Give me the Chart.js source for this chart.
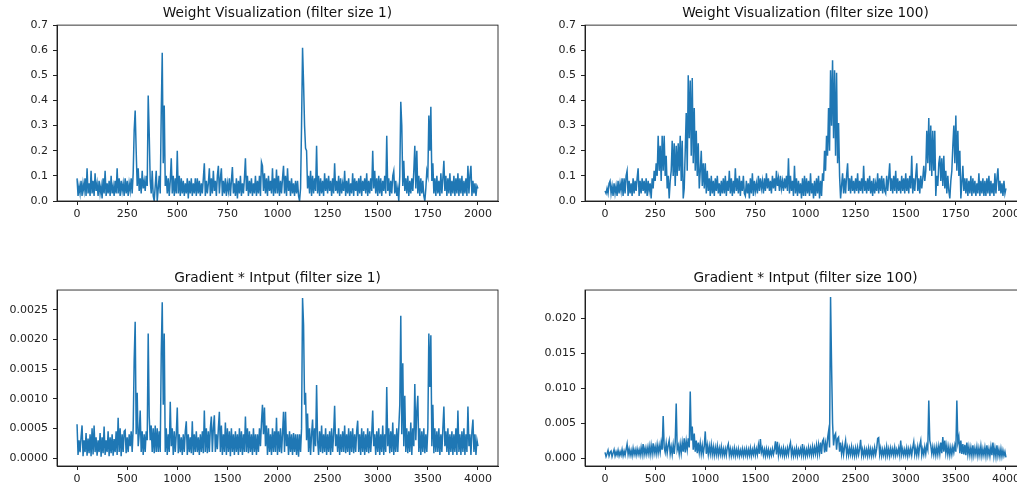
<!DOCTYPE html>
<html>
<head>
<meta charset="utf-8">
<script src="https://cdn.jsdelivr.net/npm/chart.js@4.4.1/dist/chart.umd.min.js"></script>
<style>
    html, body { margin: 0; padding: 0; overflow: hidden; background: #fff; width: 1017px; height: 485px; }
    canvas { position: absolute; }
</style>
</head>
<body>
<canvas id="w1" width="510" height="240" style="left:0;top:0"></canvas>
<canvas id="w100" width="530" height="240" style="left:510px;top:0"></canvas>
<canvas id="g1" width="510" height="225" style="left:0;top:260px"></canvas>
<canvas id="g100" width="530" height="225" style="left:510px;top:260px"></canvas>
<script>
// pas d'echantillonnage (une valeur lue tous les 5 / 10 indices)
const weightStep = 5;
const gradStep = 10;

// Weight Visualization (filter size 1) - une ligne = 100 indices
const weightF1 = [
    0.09, 0.02, 0.06, 0.03, 0.08, 0.02, 0.07, 0.04, 0.09, 0.02, 0.13, 0.03, 0.07, 0.02, 0.12, 0.03, 0.08, 0.02, 0.11, 0.04,
    0.07, 0.02, 0.08, 0.03, 0.06, 0.01, 0.09, 0.03, 0.12, 0.02, 0.07, 0.03, 0.08, 0.02, 0.10, 0.03, 0.06, 0.02, 0.08, 0.03,
    0.13, 0.03, 0.09, 0.02, 0.08, 0.04, 0.07, 0.02, 0.09, 0.03, 0.08, 0.02, 0.07, 0.04, 0.09, 0.03, 0.11, 0.28, 0.36, 0.20,
    0.06, 0.13, 0.04, 0.09, 0.03, 0.12, 0.05, 0.08, 0.04, 0.10, 0.06, 0.42, 0.27, 0.08, 0.03, 0.12, 0.02, 0.00, 0.06, 0.12,
    0.00, 0.05, 0.10, 0.03, 0.35, 0.59, 0.15, 0.38, 0.06, 0.10, 0.03, 0.09, 0.02, 0.08, 0.17, 0.03, 0.10, 0.02, 0.09, 0.03,
    0.20, 0.03, 0.10, 0.02, 0.09, 0.03, 0.08, 0.02, 0.07, 0.03, 0.09, 0.01, 0.08, 0.03, 0.09, 0.02, 0.07, 0.03, 0.09, 0.02,
    0.09, 0.03, 0.08, 0.02, 0.07, 0.03, 0.09, 0.15, 0.02, 0.08, 0.03, 0.07, 0.13, 0.02, 0.09, 0.03, 0.12, 0.04, 0.08, 0.02,
    0.10, 0.14, 0.03, 0.09, 0.13, 0.02, 0.08, 0.03, 0.09, 0.02, 0.07, 0.04, 0.09, 0.02, 0.08, 0.135, 0.03, 0.07, 0.02, 0.09,
    0.01, 0.08, 0.03, 0.10, 0.02, 0.07, 0.03, 0.09, 0.17, 0.04, 0.10, 0.02, 0.08, 0.03, 0.09, 0.02, 0.07, 0.03, 0.10, 0.02,
    0.08, 0.03, 0.10, 0.02, 0.155, 0.14, 0.04, 0.11, 0.03, 0.09, 0.02, 0.10, 0.04, 0.08, 0.03, 0.13, 0.02, 0.09, 0.03, 0.125,
    0.03, 0.10, 0.02, 0.08, 0.03, 0.09, 0.14, 0.03, 0.10, 0.02, 0.13, 0.04, 0.08, 0.02, 0.09, 0.03, 0.07, 0.02, 0.08, 0.03,
    0.08, 0.02, 0.00, 0.05, 0.30, 0.61, 0.47, 0.30, 0.21, 0.20, 0.05, 0.10, 0.03, 0.12, 0.02, 0.10, 0.03, 0.09, 0.04, 0.22,
    0.03, 0.10, 0.02, 0.09, 0.03, 0.08, 0.02, 0.11, 0.04, 0.09, 0.03, 0.10, 0.04, 0.08, 0.02, 0.09, 0.03, 0.15, 0.04, 0.08,
    0.03, 0.10, 0.02, 0.09, 0.03, 0.07, 0.04, 0.12, 0.02, 0.08, 0.03, 0.09, 0.02, 0.07, 0.03, 0.11, 0.02, 0.09, 0.04, 0.08,
    0.02, 0.09, 0.03, 0.10, 0.02, 0.08, 0.04, 0.09, 0.03, 0.11, 0.02, 0.08, 0.03, 0.09, 0.04, 0.20, 0.05, 0.12, 0.03, 0.09,
    0.02, 0.10, 0.03, 0.09, 0.02, 0.08, 0.04, 0.10, 0.03, 0.26, 0.04, 0.09, 0.02, 0.08, 0.03, 0.10, 0.12, 0.03, 0.08, 0.02,
    0.05, 0.00, 0.10, 0.395, 0.30, 0.06, 0.16, 0.04, 0.09, 0.03, 0.10, 0.02, 0.08, 0.03, 0.09, 0.04, 0.12, 0.22, 0.05, 0.20,
    0.03, 0.10, 0.02, 0.09, 0.03, 0.08, 0.02, 0.00, 0.05, 0.12, 0.10, 0.34, 0.20, 0.375, 0.08, 0.15, 0.03, 0.09, 0.02, 0.10,
    0.03, 0.08, 0.02, 0.11, 0.03, 0.09, 0.16, 0.04, 0.10, 0.02, 0.09, 0.03, 0.11, 0.02, 0.08, 0.03, 0.10, 0.02, 0.09, 0.03,
    0.11, 0.02, 0.09, 0.03, 0.10, 0.02, 0.08, 0.03, 0.09, 0.02, 0.14, 0.03, 0.10, 0.14, 0.02, 0.08, 0.03, 0.07, 0.02, 0.06,
    0.05
];

// Weight Visualization (filter size 100)
const weightF100 = [
    0.04, 0.03, 0.05, 0.03, 0.07, 0.08, 0.03, 0.06, 0.02, 0.07, 0.03, 0.06, 0.02, 0.08, 0.03, 0.07, 0.04, 0.09, 0.02, 0.09,
    0.03, 0.10, 0.12, 0.02, 0.08, 0.03, 0.07, 0.02, 0.09, 0.03, 0.08, 0.04, 0.09, 0.13, 0.02, 0.08, 0.03, 0.09, 0.04, 0.08,
    0.03, 0.09, 0.02, 0.08, 0.04, 0.07, 0.01, 0.09, 0.05, 0.12, 0.08, 0.15, 0.10, 0.26, 0.12, 0.22, 0.08, 0.26, 0.12, 0.26,
    0.10, 0.18, 0.05, 0.10, 0.01, 0.08, 0.12, 0.24, 0.10, 0.23, 0.06, 0.22, 0.10, 0.23, 0.12, 0.26, 0.08, 0.24, 0.01, 0.05,
    0.20, 0.35, 0.12, 0.50, 0.25, 0.48, 0.18, 0.49, 0.15, 0.37, 0.12, 0.28, 0.10, 0.23, 0.05, 0.12, 0.20, 0.06, 0.15, 0.05,
    0.15, 0.03, 0.12, 0.04, 0.09, 0.02, 0.10, 0.03, 0.08, 0.02, 0.09, 0.04, 0.10, 0.03, 0.07, 0.02, 0.08, 0.03, 0.09, 0.03,
    0.10, 0.02, 0.08, 0.04, 0.12, 0.03, 0.09, 0.02, 0.08, 0.03, 0.13, 0.04, 0.09, 0.03, 0.10, 0.02, 0.08, 0.04, 0.10, 0.03,
    0.02, 0.08, 0.03, 0.07, 0.01, 0.09, 0.03, 0.11, 0.02, 0.08, 0.04, 0.07, 0.03, 0.10, 0.04, 0.09, 0.05, 0.08, 0.03, 0.09,
    0.04, 0.11, 0.05, 0.09, 0.04, 0.08, 0.03, 0.10, 0.05, 0.09, 0.04, 0.12, 0.06, 0.09, 0.04, 0.10, 0.05, 0.08, 0.04, 0.09,
    0.05, 0.10, 0.04, 0.17, 0.03, 0.10, 0.04, 0.08, 0.02, 0.14, 0.03, 0.09, 0.02, 0.08, 0.03, 0.07, 0.01, 0.09, 0.02, 0.10,
    0.02, 0.09, 0.03, 0.08, 0.02, 0.11, 0.03, 0.07, 0.01, 0.08, 0.02, 0.09, 0.03, 0.10, 0.01, 0.08, 0.02, 0.11, 0.08, 0.20,
    0.12, 0.26, 0.18, 0.37, 0.20, 0.52, 0.30, 0.56, 0.25, 0.52, 0.18, 0.51, 0.15, 0.31, 0.10, 0.01, 0.06, 0.11, 0.03, 0.09,
    0.03, 0.10, 0.15, 0.04, 0.09, 0.03, 0.10, 0.04, 0.08, 0.03, 0.09, 0.04, 0.11, 0.03, 0.08, 0.04, 0.09, 0.03, 0.14, 0.04,
    0.08, 0.03, 0.09, 0.04, 0.10, 0.03, 0.08, 0.02, 0.09, 0.03, 0.07, 0.04, 0.11, 0.03, 0.09, 0.04, 0.10, 0.03, 0.09, 0.04,
    0.03, 0.10, 0.04, 0.09, 0.15, 0.04, 0.09, 0.03, 0.10, 0.04, 0.12, 0.03, 0.09, 0.04, 0.08, 0.03, 0.10, 0.04, 0.09, 0.03,
    0.11, 0.04, 0.09, 0.03, 0.10, 0.05, 0.18, 0.03, 0.09, 0.04, 0.10, 0.15, 0.04, 0.09, 0.03, 0.10, 0.05, 0.09, 0.14, 0.08,
    0.12, 0.28, 0.15, 0.33, 0.12, 0.30, 0.10, 0.28, 0.12, 0.28, 0.02, 0.10, 0.06, 0.15, 0.18, 0.08, 0.17, 0.06, 0.18, 0.05,
    0.12, 0.03, 0.10, 0.04, 0.01, 0.08, 0.12, 0.22, 0.30, 0.15, 0.34, 0.12, 0.28, 0.10, 0.20, 0.01, 0.07, 0.14, 0.04, 0.09,
    0.03, 0.09, 0.02, 0.08, 0.03, 0.10, 0.02, 0.09, 0.03, 0.08, 0.02, 0.07, 0.03, 0.11, 0.02, 0.08, 0.03, 0.09, 0.02, 0.08,
    0.02, 0.09, 0.03, 0.10, 0.02, 0.08, 0.03, 0.07, 0.02, 0.11, 0.03, 0.09, 0.13, 0.04, 0.08, 0.03, 0.07, 0.02, 0.08, 0.03,
    0.05
];

// Gradient * Intput (filter size 1) - une ligne = 200 indices
const gradF1 = [
    0.00057, 0.00005, 0.0003, 0.0001, 0.00035, 0.00055, 0.00003, 0.0003, 0.0001, 0.00042, 0.00004, 0.00033, 0.00008, 0.0004, 0.00003, 0.0005, 0.00006, 0.00055, 0.0001, 0.00035,
    0.00004, 0.0003, 0.0001, 0.00042, 0.00002, 0.00035, 0.00008, 0.00053, 0.00005, 0.0003, 0.0001, 0.00045, 0.00003, 0.00035, 0.00008, 0.0004, 0.00004, 0.00032, 0.0001, 0.00045,
    0.00005, 0.00068, 0.0001, 0.0005, 0.00003, 0.0004, 0.0001, 0.00045, 0.00047, 0.00008, 0.00035, 0.0001, 0.0004, 0.0002, 0.00045, 0.0001, 0.0005, 0.00165, 0.0023, 0.0004,
    0.0011, 0.0002, 0.0004, 0.0008, 0.0001, 0.00045, 0.00005, 0.0004, 0.0001, 0.00045, 0.0003, 0.0021, 0.0007, 0.0003, 0.00055, 0.0001, 0.0005, 0.00008, 0.00055, 0.0001,
    0.0005, 0.0001, 0.00045, 0.0001, 0.00175, 0.00263, 0.0009, 0.0021, 0.0001, 0.0005, 0.00005, 0.0004, 0.0001, 0.00095, 0.0002, 0.0005, 0.00005, 0.00045, 0.0001, 0.0004,
    0.00085, 0.00008, 0.0004, 0.0001, 0.00035, 0.00005, 0.0004, 0.0001, 0.00045, 0.00062, 0.00005, 0.0004, 0.0001, 0.00035, 0.00008, 0.00062, 0.00005, 0.0004, 0.0001, 0.00045,
    0.0001, 0.00035, 0.00005, 0.0004, 0.0001, 0.00045, 0.00008, 0.0008, 0.0001, 0.0005, 0.00008, 0.00045, 0.0001, 0.0005, 0.0007, 0.0001, 0.0005, 0.00072, 0.0001, 0.0004,
    0.00015, 0.0005, 0.00078, 0.0001, 0.00055, 0.00005, 0.0004, 0.0001, 0.0006, 0.00005, 0.0005, 0.0001, 0.00045, 0.00003, 0.0005, 0.0001, 0.0004, 0.00005, 0.00045, 0.0001,
    0.0004, 0.00005, 0.0005, 0.0001, 0.00045, 0.00005, 0.0004, 0.0001, 0.0007, 0.0001, 0.0005, 0.00008, 0.00045, 0.0001, 0.0004, 0.00005, 0.0005, 0.0001, 0.0004, 0.00005,
    0.0004, 0.0001, 0.0005, 0.0002, 0.0006, 0.0009, 0.0004, 0.00085, 0.0002, 0.00055, 0.00005, 0.0005, 0.0001, 0.0004, 0.00005, 0.0005, 0.0001, 0.00045, 0.0001, 0.00068,
    0.00005, 0.00045, 0.0001, 0.0005, 0.00008, 0.0004, 0.00078, 0.0001, 0.00078, 0.0002, 0.0004, 0.00005, 0.00045, 0.0001, 0.0004, 0.00005, 0.00042, 0.0001, 0.0004, 0.00005,
    0.0004, 0.00002, 0.0004, 0.0001, 0.0005, 0.0027, 0.00225, 0.0009, 0.0011, 0.0003, 0.00075, 0.0001, 0.0005, 0.00005, 0.0004, 0.00065, 0.0001, 0.0005, 0.0002, 0.00123,
    0.0003, 0.00005, 0.00045, 0.0001, 0.00055, 0.00008, 0.0004, 0.0001, 0.0005, 0.00005, 0.0004, 0.0001, 0.00045, 0.00005, 0.0005, 0.0001, 0.0004, 0.00088, 0.0002, 0.0004,
    0.0001, 0.0005, 0.00005, 0.0004, 0.0001, 0.00045, 0.0001, 0.00055, 0.00008, 0.0004, 0.0001, 0.0005, 0.00005, 0.00045, 0.0001, 0.0005, 0.00008, 0.0004, 0.0001, 0.00045,
    0.00063, 0.0001, 0.0004, 0.00005, 0.0005, 0.0001, 0.00045, 0.00005, 0.0004, 0.0001, 0.0005, 0.00008, 0.00045, 0.0001, 0.0004, 0.0008, 0.0002, 0.0004, 0.00005, 0.00045,
    0.0001, 0.0005, 0.00005, 0.0004, 0.0001, 0.00055, 0.00005, 0.0004, 0.0001, 0.0012, 0.0002, 0.0005, 0.00008, 0.00045, 0.0001, 0.0006, 0.00005, 0.0004, 0.0001, 0.0005,
    0.0001, 0.0005, 0.0009, 0.0024, 0.0004, 0.0016, 0.0002, 0.00105, 0.0001, 0.0005, 0.00008, 0.00045, 0.0001, 0.0006, 0.00005, 0.0005, 0.0002, 0.00125, 0.0003, 0.0008,
    0.00105, 0.0001, 0.0005, 0.00005, 0.00045, 0.0001, 0.0005, 0.00008, 0.0004, 0.0001, 0.0005, 0.0021, 0.0012, 0.00207, 0.0002, 0.0009, 0.00008, 0.0005, 0.0001, 0.00045,
    0.0001, 0.0005, 0.00005, 0.0004, 0.0001, 0.0005, 0.00087, 0.0002, 0.00045, 0.0001, 0.0005, 0.00005, 0.0004, 0.0001, 0.00045, 0.00005, 0.0004, 0.0001, 0.0005, 0.00005,
    0.0008, 0.0001, 0.0004, 0.00005, 0.00045, 0.0001, 0.0005, 0.00005, 0.0004, 0.0001, 0.00087, 0.0002, 0.0004, 0.00005, 0.00045, 0.00065, 0.0001, 0.0004, 0.00005, 0.0003,
    0.0002
];

// Gradient * Intput (filter size 100)
const gradF100 = [
    0.0008, 0.0002, 0.0006, 0.0011, 0.0003, 0.0008, 0.001, 0.0002, 0.0007, 0.0012, 0.0003, 0.0009, 0.0004, 0.0011, 0.0003, 0.0009, 0.0004, 0.0012, 0.0003, 0.001,
    0.0004, 0.0012, 0.002, 0.0005, 0.0013, 0.0004, 0.0011, 0.0003, 0.0014, 0.0005, 0.0012, 0.0004, 0.0013, 0.0005, 0.0012, 0.0004, 0.0015, 0.0005, 0.002, 0.0005,
    0.0014, 0.0005, 0.0015, 0.0006, 0.0017, 0.0005, 0.0018, 0.0006, 0.0021, 0.0007, 0.0016, 0.0006, 0.0019, 0.0007, 0.0018, 0.0008, 0.0022, 0.0012, 0.006, 0.0015,
    0.0008, 0.0021, 0.0007, 0.0018, 0.0025, 0.0006, 0.0016, 0.0005, 0.0019, 0.0006, 0.0022, 0.0078, 0.0012, 0.0018, 0.0006, 0.002, 0.0007, 0.0022, 0.0009, 0.0028,
    0.0008, 0.0024, 0.0012, 0.0028, 0.0015, 0.0095, 0.0025, 0.0045, 0.0012, 0.0035, 0.0009, 0.0025, 0.0007, 0.0022, 0.0008, 0.0021, 0.0006, 0.0018, 0.0006, 0.0017,
    0.0038, 0.0006, 0.0018, 0.0005, 0.0017, 0.0006, 0.0019, 0.0005, 0.0016, 0.0004, 0.0015, 0.0005, 0.0017, 0.0004, 0.0014, 0.0005, 0.0016, 0.0004, 0.0013, 0.0004,
    0.0013, 0.0004, 0.0015, 0.002, 0.0004, 0.0013, 0.0003, 0.0012, 0.0004, 0.0014, 0.0003, 0.0012, 0.0004, 0.0013, 0.0003, 0.0011, 0.0004, 0.0013, 0.0003, 0.0012,
    0.0004, 0.0013, 0.0003, 0.0012, 0.0004, 0.0014, 0.0003, 0.0012, 0.0005, 0.0015, 0.0004, 0.0013, 0.0005, 0.0018, 0.0006, 0.0027, 0.0008, 0.0014, 0.0004, 0.0012,
    0.0003, 0.0013, 0.0004, 0.0012, 0.0003, 0.0011, 0.0004, 0.0013, 0.0005, 0.0012, 0.0024, 0.0005, 0.0023, 0.0004, 0.0015, 0.0005, 0.0013, 0.0004, 0.0014, 0.0003,
    0.0012, 0.0004, 0.0014, 0.0005, 0.0016, 0.0022, 0.0004, 0.0013, 0.0003, 0.0012, 0.0004, 0.0014, 0.0003, 0.0012, 0.0005, 0.0013, 0.0004, 0.002, 0.0004, 0.0013,
    0.0003, 0.0012, 0.0004, 0.0015, 0.0005, 0.0014, 0.0004, 0.0016, 0.0005, 0.0015, 0.0006, 0.0018, 0.0005, 0.0019, 0.0007, 0.0022, 0.0006, 0.0024, 0.0027, 0.0008,
    0.0021, 0.0009, 0.0028, 0.0038, 0.0015, 0.023, 0.0133, 0.005, 0.0018, 0.0032, 0.0035, 0.0012, 0.0028, 0.003, 0.0009, 0.0022, 0.0006, 0.0018, 0.0005, 0.0016,
    0.0025, 0.0005, 0.0015, 0.0004, 0.0014, 0.0005, 0.0016, 0.0004, 0.0013, 0.0003, 0.0014, 0.0004, 0.0015, 0.0005, 0.0013, 0.0026, 0.0004, 0.0012, 0.0003, 0.0013,
    0.0004, 0.0012, 0.0003, 0.0014, 0.0004, 0.0013, 0.0003, 0.0012, 0.0004, 0.0015, 0.0005, 0.0013, 0.0028, 0.0029, 0.0005, 0.0014, 0.0003, 0.0012, 0.0004, 0.0013,
    0.0003, 0.0016, 0.0004, 0.0013, 0.0003, 0.0014, 0.0005, 0.0013, 0.0004, 0.0015, 0.0004, 0.0012, 0.0005, 0.0014, 0.0004, 0.0025, 0.0005, 0.0013, 0.0004, 0.0012,
    0.0004, 0.0014, 0.0003, 0.0013, 0.0005, 0.0014, 0.0004, 0.0015, 0.0023, 0.0005, 0.0014, 0.0004, 0.0016, 0.0005, 0.0018, 0.0025, 0.0004, 0.0013, 0.0005, 0.0016,
    0.0006, 0.0018, 0.0012, 0.0082, 0.0025, 0.0018, 0.0006, 0.0016, 0.0005, 0.0015, 0.0004, 0.0016, 0.0005, 0.0017, 0.0006, 0.0022, 0.0007, 0.003, 0.0009, 0.0025,
    0.0007, 0.0018, 0.0005, 0.0016, 0.0004, 0.0015, 0.0005, 0.0016, 0.0008, 0.0018, 0.0009, 0.0082, 0.0022, 0.003, 0.0007, 0.0025, 0.0006, 0.002, 0.0005, 0.0019,
    0.0004, 0.0022, 0.0005, 0.0016, 0.0004, 0.0015, 0.0003, 0.0018, 0.0004, 0.0014, 0.0005, 0.0016, 0.0003, 0.0014, 0.0004, 0.0017, 0.0003, 0.0013, 0.0004, 0.0015,
    0.0003, 0.0018, 0.0004, 0.0013, 0.0003, 0.0016, 0.0004, 0.0022, 0.0003, 0.0014, 0.0002, 0.0018, 0.0003, 0.0012, 0.0002, 0.0013, 0.0002, 0.0011, 0.0003, 0.0009,
    0.0001
];

// graduations
const weightXTicks = [0, 250, 500, 750, 1000, 1250, 1500, 1750, 2000];
const weightYTicks = [0, 0.1, 0.2, 0.3, 0.4, 0.5, 0.6, 0.7];
const gradXTicks = [0, 500, 1000, 1500, 2000, 2500, 3000, 3500, 4000];
const gradF1YTicks = [0, 0.0005, 0.001, 0.0015, 0.002, 0.0025];
const gradF100YTicks = [0, 0.005, 0.01, 0.015, 0.02];

const titles = [
    'Weight Visualization (filter size 1)',
    'Weight Visualization (filter size 100)',
    'Gradient * Intput (filter size 1)',
    'Gradient * Intput (filter size 100)'
];

// cadre complet autour de la zone du graphique (comme matplotlib)
const framePlugin = {
    id: 'frame',
    afterDraw(chart) {
        const a = chart.chartArea;
        const ctx = chart.ctx;
        ctx.save();
        ctx.strokeStyle = '#222';
        ctx.lineWidth = 0.9;
        ctx.strokeRect(a.left, a.top, a.right - a.left, a.bottom - a.top);
        ctx.restore();
    }
};

function toPoints(values, step) {
    return values.map((v, i) => ({ x: i * step, y: v }));
}

function subplot(id, o) {
    const ctx = document.getElementById(id).getContext('2d');
    return new Chart(ctx, {
        type: 'line',
        data: {
            datasets: [{
                data: toPoints(o.values, o.step),
                borderColor: '#1f77b4',
                borderWidth: 1.5,
                pointRadius: 0,
                tension: 0,
                fill: false
            }]
        },
        options: {
            responsive: false,
            animation: false,
            layout: { padding: { left: 0, right: o.padRight, top: 0, bottom: 0 } },
            plugins: {
                legend: { display: false },
                tooltip: { enabled: false },
                title: {
                    display: true,
                    text: o.title,
                    fullSize: false,
                    color: '#111',
                    font: { family: 'DejaVu Sans', size: 13.7, weight: 'normal', lineHeight: 1.25 },
                    padding: o.titlePad
                }
            },
            scales: {
                x: {
                    type: 'linear',
                    min: o.xMin,
                    max: o.xMax,
                    afterBuildTicks: s => { s.ticks = o.xTicks.map(v => ({ value: v })); },
                    afterFit: s => { s.height = o.xHeight; },
                    grid: { drawOnChartArea: false, drawTicks: true, tickLength: 4, color: '#222' },
                    border: { display: true, color: '#222' },
                    ticks: {
                        color: '#222',
                        font: { family: 'DejaVu Sans', size: 11 },
                        padding: 3,
                        maxRotation: 0,
                        autoSkip: false,
                        callback: v => String(v)
                    }
                },
                y: {
                    type: 'linear',
                    min: o.yMin,
                    max: o.yMax,
                    afterBuildTicks: s => { s.ticks = o.yTicks.map(v => ({ value: v })); },
                    afterFit: s => { s.width = o.yWidth; },
                    grid: { drawOnChartArea: false, drawTicks: true, tickLength: 4, color: '#222' },
                    border: { display: true, color: '#222' },
                    ticks: {
                        color: '#222',
                        font: { family: 'DejaVu Sans', size: 11 },
                        padding: 5,
                        autoSkip: false,
                        callback: v => v.toFixed(o.decimals)
                    }
                }
            }
        },
        plugins: [framePlugin]
    });
}

subplot('w1', {
    values: weightF1, step: weightStep, title: titles[0],
    xMin: -100, xMax: 2100, xTicks: weightXTicks,
    yMin: 0, yMax: 0.7, yTicks: weightYTicks, decimals: 1,
    yWidth: 57, xHeight: 39, padRight: 12, titlePad: { top: 5, bottom: 3 }
});

subplot('w100', {
    values: weightF100, step: weightStep, title: titles[1],
    xMin: -100, xMax: 2100, xTicks: weightXTicks,
    yMin: 0, yMax: 0.7, yTicks: weightYTicks, decimals: 1,
    yWidth: 75, xHeight: 39, padRight: 14, titlePad: { top: 5, bottom: 3 }
});

subplot('g1', {
    values: gradF1, step: gradStep, title: titles[2],
    xMin: -200, xMax: 4200, xTicks: gradXTicks,
    yMin: -0.000135, yMax: 0.002835, yTicks: gradF1YTicks, decimals: 4,
    yWidth: 57, xHeight: 19, padRight: 12, titlePad: { top: 9.5, bottom: 3.4 }
});

subplot('g100', {
    values: gradF100, step: gradStep, title: titles[3],
    xMin: -200, xMax: 4200, xTicks: gradXTicks,
    yMin: -0.00114, yMax: 0.024, yTicks: gradF100YTicks, decimals: 3,
    yWidth: 75, xHeight: 19, padRight: 14, titlePad: { top: 9.5, bottom: 3.4 }
});
</script>
</body>
</html>
